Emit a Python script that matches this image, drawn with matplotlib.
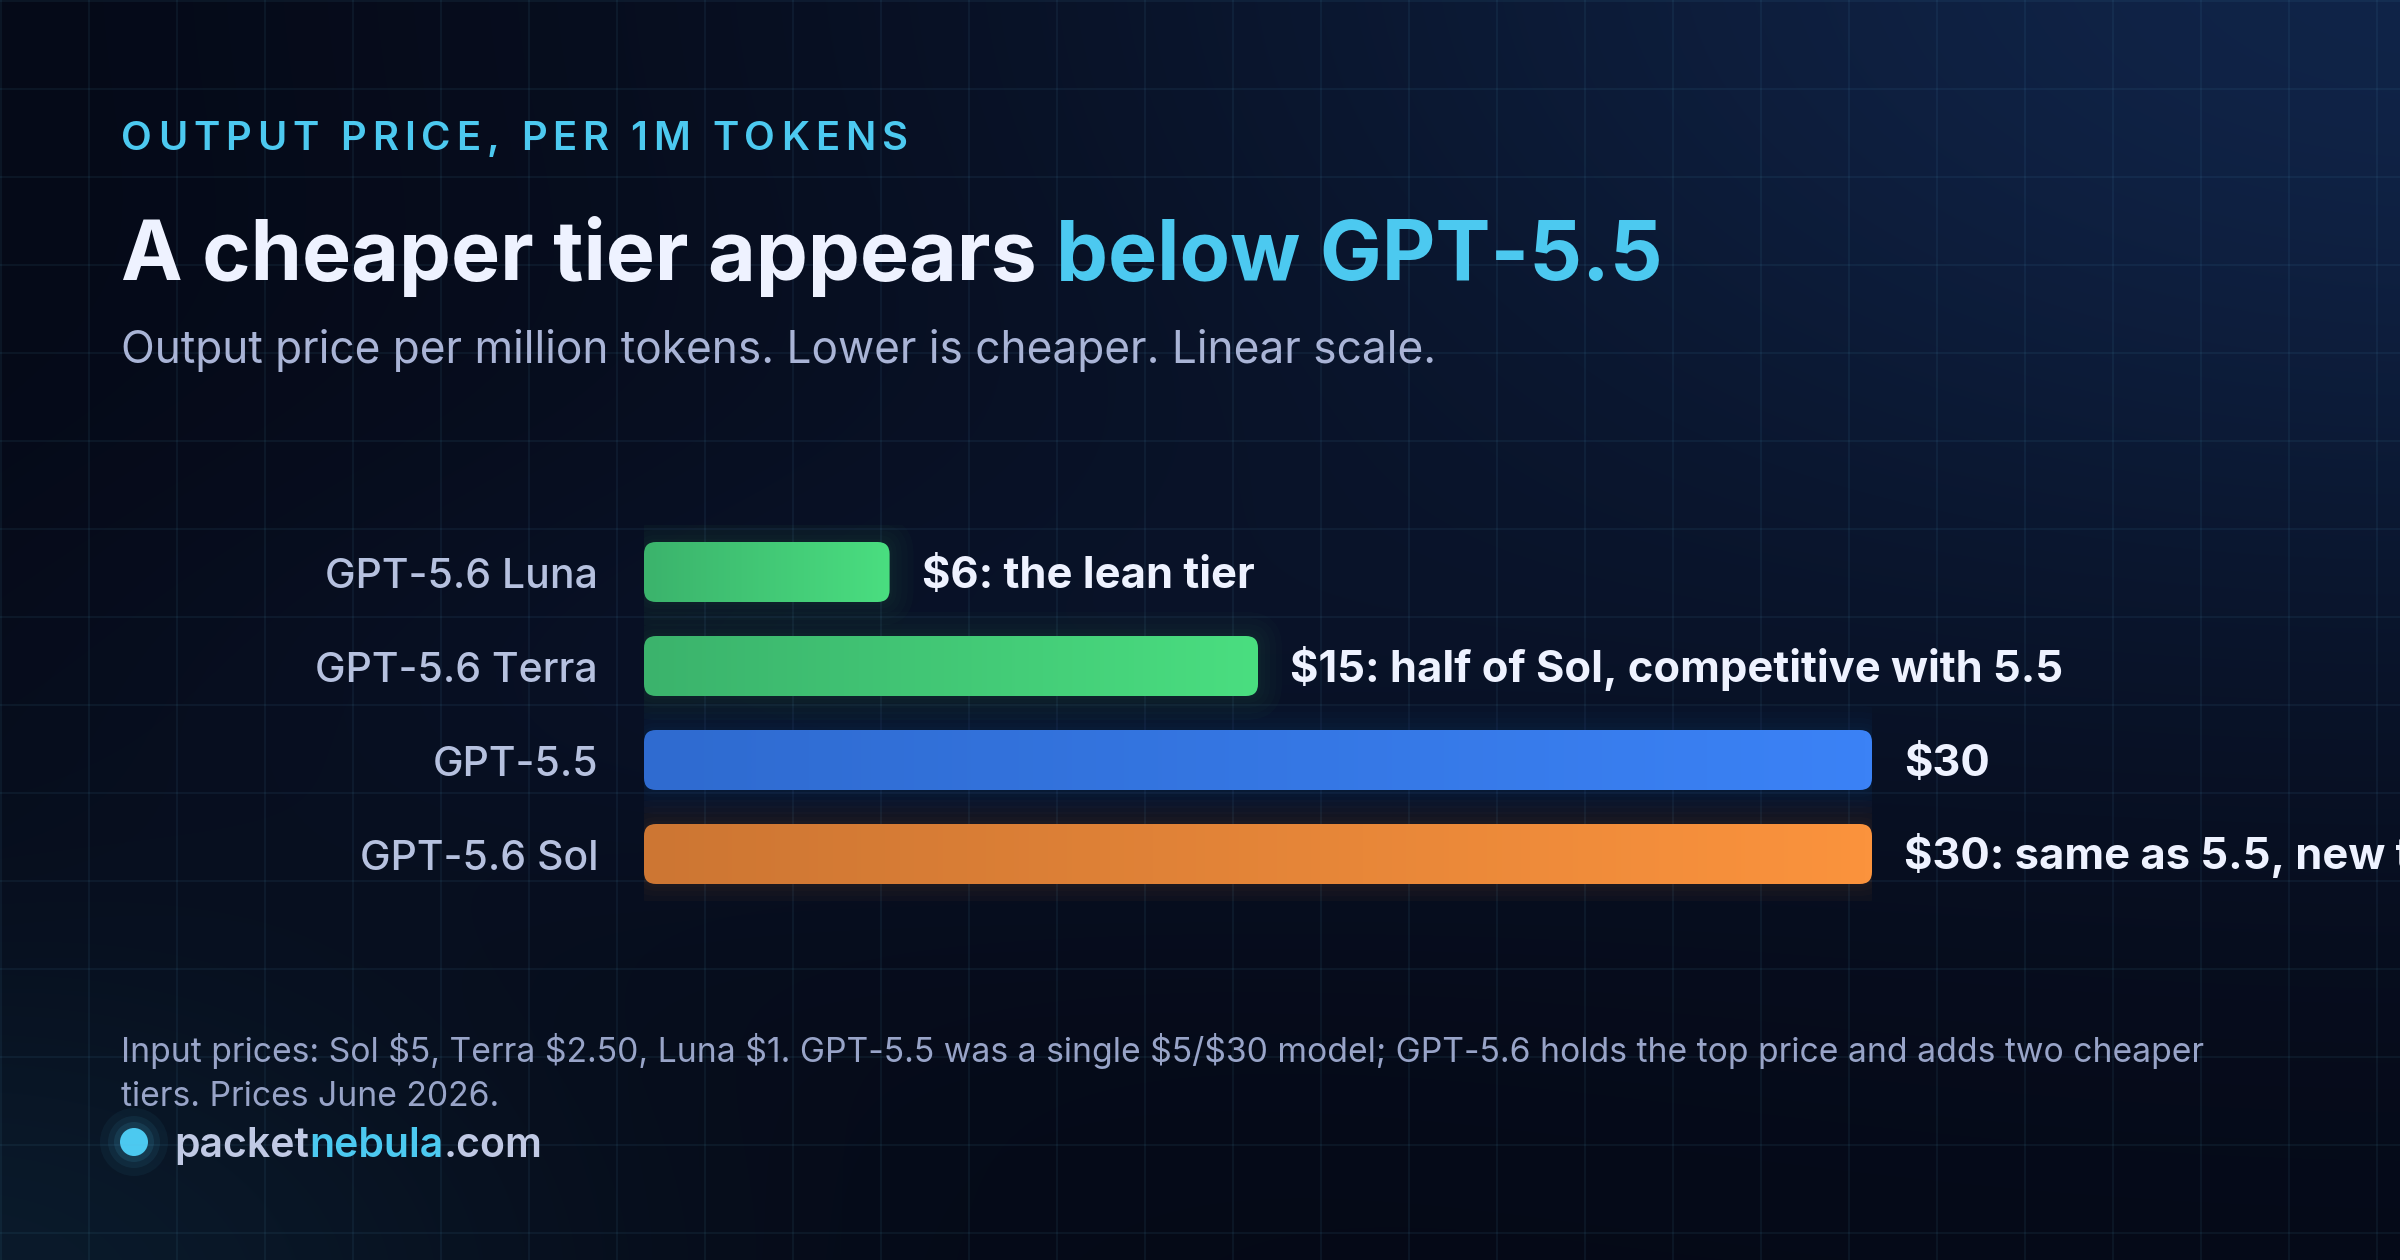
import numpy as np
import matplotlib
matplotlib.use("Agg")
import matplotlib.pyplot as plt
from matplotlib.patches import FancyBboxPatch, Circle
from matplotlib.colors import LinearSegmentedColormap

# ---------------- data ----------------
models = ["GPT-5.6 Luna", "GPT-5.6 Terra", "GPT-5.5", "GPT-5.6 Sol"]
output_price = [6, 15, 30, 30]
value_labels = [
    "$6: the lean tier",
    "$15: half of Sol, competitive with 5.5",
    "$30",
    "$30: same as 5.5, new top tier",
]
bar_gradients = [
    ("#3bb36c", "#4ade80"),
    ("#3bb36c", "#4ade80"),
    ("#2f6bd0", "#3b82f6"),
    ("#cd7633", "#fb933d"),
]
eyebrow = "OUTPUT PRICE, PER 1M TOKENS"
title_main = "A cheaper tier appears "
title_accent = "below GPT-5.5"
subtitle = "Output price per million tokens. Lower is cheaper. Linear scale."
footnote_lines = [
    "Input prices: Sol $5, Terra $2.50, Luna $1. GPT-5.5 was a single $5/$30 model; "
    "GPT-5.6 holds the top price and adds two cheaper",
    "tiers. Prices June 2026.",
]
brand_parts = ["packet", "nebula", ".com"]

# ---------------- style ----------------
W, H, DPI = 2400, 1260, 100
PT = 72 / DPI  # points per pixel
FONT = "Inter"
CYAN = "#4cc9f0"
WHITE = "#eef2ff"
LABEL = "#b6c1df"
SUB = "#a9b4d6"
FOOT = "#98a4c8"

plt.rcParams["font.family"] = [FONT, "DejaVu Sans"]

fig = plt.figure(figsize=(W / DPI, H / DPI), dpi=DPI)
renderer = fig.canvas.get_renderer()


def fx(x):
    return x / W


def fy(y):
    return 1 - y / H


def twidth(s, **kw):
    t = fig.text(0, 0, s, parse_math=False, **kw)
    w = t.get_window_extent(renderer).width
    t.remove()
    return w


# ---------------- background ----------------
bg = fig.add_axes([0, 0, 1, 1])
bg.set_axis_off()
yy, xx = np.mgrid[0:H, 0:W].astype(float)
base = np.array([5, 9, 22]) / 255.0
img = np.ones((H, W, 3)) * base


def glow(cx, cy, rx, ry, color, strength):
    d2 = ((xx - cx) / rx) ** 2 + ((yy - cy) / ry) ** 2
    w = strength * np.exp(-d2)
    return w[..., None] * (np.array(color) / 255.0 - base)


img += glow(2450, -50, 1400, 750, (16, 36, 72), 1.0)
img += glow(-50, 1300, 650, 380, (12, 32, 50), 0.75)
img += glow(800, 680, 800, 260, (10, 20, 44), 0.5)
img = np.clip(img, 0, 1)
bg.imshow(img, extent=(0, W, H, 0), aspect="auto", interpolation="bilinear")
for gx in np.arange(1, W + 1, 88):
    bg.axvline(gx, color="#5fb8de", alpha=0.09, lw=1.6 * PT)
for gy in np.arange(1, H + 1, 88):
    bg.axhline(gy, color="#5fb8de", alpha=0.09, lw=1.6 * PT)
bg.set_xlim(0, W)
bg.set_ylim(H, 0)

# ---------------- header texts ----------------
# eyebrow with letter spacing
eb_kw = dict(fontsize=40 * PT, fontweight="semibold", color=CYAN)
eb_x0, eb_target = 121, 907 - 121
natural = twidth(eyebrow, **eb_kw)
spacing = (eb_target - natural) / (len(eyebrow) - 1)
for i, ch in enumerate(eyebrow):
    if ch == " ":
        continue
    pos = twidth(eyebrow[: i + 1], **eb_kw) - twidth(ch, **eb_kw) + i * spacing
    fig.text(fx(eb_x0 + pos), fy(150), ch, ha="left", va="baseline",
             parse_math=False, **eb_kw)

t_kw = dict(fontsize=82.6 * PT, fontweight="bold")
full_title = title_main + title_accent
fig.text(fx(121), fy(280), title_main.rstrip(), color=WHITE, ha="left",
         va="baseline", parse_math=False, **t_kw)
w_full = twidth(full_title, **t_kw)
fig.text(fx(121) + w_full / W, fy(280), title_accent, color=CYAN, ha="right",
         va="baseline", parse_math=False, **t_kw)

fig.text(fx(121), fy(363), subtitle, color=SUB, fontsize=44.2 * PT,
         ha="left", va="baseline", parse_math=False)

# ---------------- bar chart ----------------
bar_left, bar_right = 644, 1872
row_step = 94
first_center = 572
ax_top = first_center - row_step / 2
ax_h = row_step * len(models)
ax = fig.add_axes([fx(bar_left), fy(ax_top + ax_h), (bar_right - bar_left) / W, ax_h / H])
ax.set_facecolor("none")
ax.set_xlim(0, 30)
ax.set_ylim(len(models) - 0.5, -0.5)
for s in ax.spines.values():
    s.set_visible(False)
ax.set_xticks([])
ax.set_yticks([])

px_per_x = (bar_right - bar_left) / 30.0
px_per_y = row_step
asp = (1 / px_per_y) / (1 / px_per_x)
radius_px = 12

ypos = np.arange(len(models))
bars = ax.barh(ypos, output_price, height=60 / row_step, color="none", zorder=2)

for b, (c0, c1) in zip(bars, bar_gradients):
    x0, y0, w, h = b.get_x(), b.get_y(), b.get_width(), b.get_height()
    # soft glow
    for g in [24, 18, 12, 7, 3]:
        gp = FancyBboxPatch((x0, y0), w, h,
                            boxstyle=f"round,pad={g / px_per_x},rounding_size={(radius_px + g) / px_per_x}",
                            mutation_aspect=asp, fc=c1, ec="none", alpha=0.018, zorder=1)
        ax.add_patch(gp)
    patch = FancyBboxPatch((x0, y0), w, h,
                           boxstyle=f"round,pad=0,rounding_size={radius_px / px_per_x}",
                           mutation_aspect=asp, fc="none", ec="none", zorder=2)
    ax.add_patch(patch)
    cmap = LinearSegmentedColormap.from_list("g", [c0, c1])
    grad = np.linspace(0, 1, 256)[None, :]
    ax.imshow(grad, cmap=cmap, extent=(x0, x0 + w, y0 + h, y0), aspect="auto",
              clip_path=patch, zorder=3, interpolation="bilinear")

ax.set_xlim(0, 30)
ax.set_ylim(len(models) - 0.5, -0.5)

cap_half = 15.5
for i, (m, v, lbl) in enumerate(zip(models, output_price, value_labels)):
    ax.annotate(m, (0, i), xytext=(-46 * PT, -cap_half * PT), textcoords="offset points",
                ha="right", va="baseline", color=LABEL, fontsize=41 * PT,
                fontweight="medium", parse_math=False, annotation_clip=False)
    ax.annotate(lbl, (v, i), xytext=(32 * PT, -cap_half * PT), textcoords="offset points",
                ha="left", va="baseline", color=WHITE, fontsize=43.5 * PT,
                fontweight="bold", parse_math=False, annotation_clip=False)

# ---------------- footer ----------------
for line, base_y in zip(footnote_lines, [1062, 1106]):
    fig.text(fx(121), fy(base_y), line, color=FOOT, fontsize=33.7 * PT,
             ha="left", va="baseline", parse_math=False)

# brand dot with glow
for r, a in [(34, 0.05), (26, 0.07), (20, 0.10)]:
    bg.add_patch(Circle((134, 1142), r, color=CYAN, alpha=a, lw=0))
bg.add_patch(Circle((134, 1142), 14, color=CYAN, lw=0))

b_kw = dict(fontsize=41 * PT, fontweight="semibold")
bx = 174
fig.text(fx(bx), fy(1157), brand_parts[0], color="#c0c9e4", ha="left",
         va="baseline", parse_math=False, **b_kw)
w2 = twidth(brand_parts[0] + brand_parts[1], **b_kw)
fig.text(fx(bx) + w2 / W, fy(1157), brand_parts[1], color=CYAN, ha="right",
         va="baseline", parse_math=False, **b_kw)
w3 = twidth("".join(brand_parts), **b_kw)
fig.text(fx(bx) + w3 / W, fy(1157), brand_parts[2], color="#c0c9e4", ha="right",
         va="baseline", parse_math=False, **b_kw)

fig.savefig("out.png", dpi=DPI, facecolor="#050916")
